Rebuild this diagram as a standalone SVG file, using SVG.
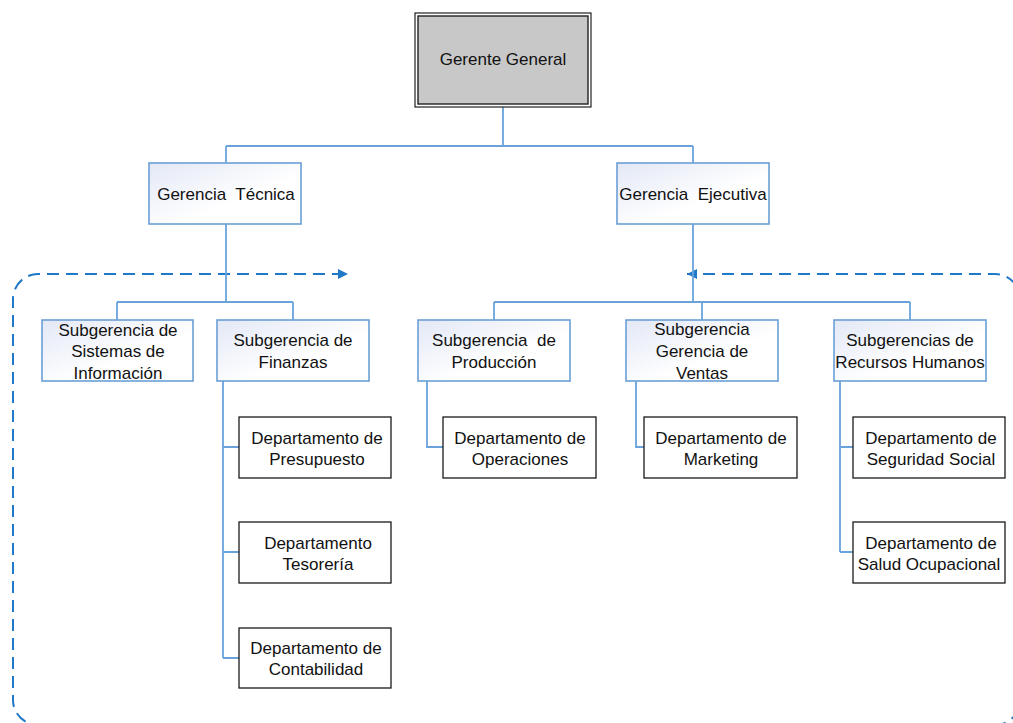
<svg xmlns="http://www.w3.org/2000/svg" width="1013" height="723" viewBox="0 0 1013 723">
  <style>
    .lbl { font-family: "Liberation Sans", Arial, sans-serif; font-size: 17px; fill: #111; text-anchor: middle; }
    .mgr { fill: url(#mgrFill); stroke: #6b9fd6; stroke-width: 1.6; }
    .dept { fill: #ffffff; stroke: #1a1a1a; stroke-width: 1.3; }
    .wire { fill: none; stroke: #6aa3dc; stroke-width: 1.8; }
    .flow { fill: none; stroke: #1f78c8; stroke-width: 2; stroke-dasharray: 12 7; }
  </style>
  <defs>
    <linearGradient id="mgrFill" x1="0" y1="0" x2="1" y2="1">
      <stop offset="0" stop-color="#e3e8f6"/>
      <stop offset="0.6" stop-color="#ffffff"/>
    </linearGradient>
    <marker id="tip" viewBox="0 0 10 10" refX="10" refY="5" markerWidth="11" markerHeight="10" markerUnits="userSpaceOnUse" orient="auto">
      <path d="M0 0 L10 5 L0 10 Z" fill="#1f78c8"/>
    </marker>
  </defs>

  <!-- dashed information-flow loop -->
  <g id="flow-loop">
    <path class="flow" marker-end="url(#tip)" d="M500 725 H38 A25 25 0 0 1 13 700 V299 A25 25 0 0 1 38 274 H348"/>
    <path class="flow" marker-end="url(#tip)" d="M500 725 H995 A25 25 0 0 0 1020 700 V299 A25 25 0 0 0 995 274 H687"/>
  </g>

  <!-- org chart connectors -->
  <g id="connectors">
    <path class="wire" d="M503 107 V146 M226 146 H693 M226 146 V163 M693 146 V163"/>
    <path class="wire" d="M226 224 V302 M117 302 H293 M117 302 V320 M293 302 V320"/>
    <path class="wire" d="M693 224 V302 M494 302 H910 M494 302 V320 M702 302 V320 M910 302 V320"/>
    <path class="wire" d="M223 381 V658 M223 447 H239 M223 552 H239 M223 658 H239"/>
    <path class="wire" d="M427 381 V447 H443"/>
    <path class="wire" d="M636 381 V447 H644"/>
    <path class="wire" d="M840 381 V552 M840 447 H853 M840 552 H853"/>
  </g>

  <g id="gerente-general">
    <rect x="415" y="13" width="176" height="94" fill="#ffffff" stroke="#222" stroke-width="1.2"/>
    <rect x="418" y="16" width="170" height="88" fill="#c8c8c8" stroke="#222" stroke-width="1.4"/>
    <text class="lbl" x="503" y="65">Gerente General</text>
  </g>

  <g id="gerencia-tecnica">
    <rect class="mgr" x="149" y="163" width="152" height="61"/>
    <text class="lbl" x="226" y="200" xml:space="preserve">Gerencia  Técnica</text>
  </g>
  <g id="gerencia-ejecutiva">
    <rect class="mgr" x="617" y="163" width="152" height="61"/>
    <text class="lbl" x="693" y="200" xml:space="preserve">Gerencia  Ejecutiva</text>
  </g>

  <g id="sub-sistemas">
    <rect class="mgr" x="42" y="320" width="151" height="61"/>
    <text class="lbl" x="118" y="336">Subgerencia de</text>
    <text class="lbl" x="118" y="357">Sistemas de</text>
    <text class="lbl" x="118" y="378.5">Información</text>
  </g>
  <g id="sub-finanzas">
    <rect class="mgr" x="217" y="320" width="152" height="61"/>
    <text class="lbl" x="293" y="346">Subgerencia de</text>
    <text class="lbl" x="293" y="367.5">Finanzas</text>
  </g>
  <g id="sub-produccion">
    <rect class="mgr" x="418" y="320" width="152" height="61"/>
    <text class="lbl" x="494" y="346" xml:space="preserve">Subgerencia  de</text>
    <text class="lbl" x="494" y="367.5">Producción</text>
  </g>
  <g id="sub-ventas">
    <rect class="mgr" x="626" y="320" width="152" height="61"/>
    <text class="lbl" x="702" y="335">Subgerencia</text>
    <text class="lbl" x="702" y="356.5">Gerencia de</text>
    <text class="lbl" x="702" y="378.5">Ventas</text>
  </g>
  <g id="sub-rrhh">
    <rect class="mgr" x="834" y="320" width="152" height="61"/>
    <text class="lbl" x="910" y="346">Subgerencias de</text>
    <text class="lbl" x="910" y="367.5">Recursos Humanos</text>
  </g>

  <g id="dep-presupuesto">
    <rect class="dept" x="239" y="417" width="152" height="61"/>
    <text class="lbl" x="317" y="443.5">Departamento de</text>
    <text class="lbl" x="317" y="464.5">Presupuesto</text>
  </g>
  <g id="dep-tesoreria">
    <rect class="dept" x="239" y="522" width="152" height="61"/>
    <text class="lbl" x="318" y="548.5">Departamento</text>
    <text class="lbl" x="318" y="569.5">Tesorería</text>
  </g>
  <g id="dep-contabilidad">
    <rect class="dept" x="239" y="628" width="152" height="60"/>
    <text class="lbl" x="316" y="654">Departamento de</text>
    <text class="lbl" x="316" y="675">Contabilidad</text>
  </g>
  <g id="dep-operaciones">
    <rect class="dept" x="443" y="417" width="153" height="61"/>
    <text class="lbl" x="520" y="443.5">Departamento de</text>
    <text class="lbl" x="520" y="464.5">Operaciones</text>
  </g>
  <g id="dep-marketing">
    <rect class="dept" x="644" y="417" width="153" height="61"/>
    <text class="lbl" x="721" y="443.5">Departamento de</text>
    <text class="lbl" x="721" y="464.5">Marketing</text>
  </g>
  <g id="dep-seguridad">
    <rect class="dept" x="853" y="417" width="152" height="61"/>
    <text class="lbl" x="931" y="443.5">Departamento de</text>
    <text class="lbl" x="931" y="464.5">Seguridad Social</text>
  </g>
  <g id="dep-salud">
    <rect class="dept" x="853" y="522" width="152" height="61"/>
    <text class="lbl" x="931" y="548.5">Departamento de</text>
    <text class="lbl" x="929" y="569.5">Salud Ocupacional</text>
  </g>
</svg>
